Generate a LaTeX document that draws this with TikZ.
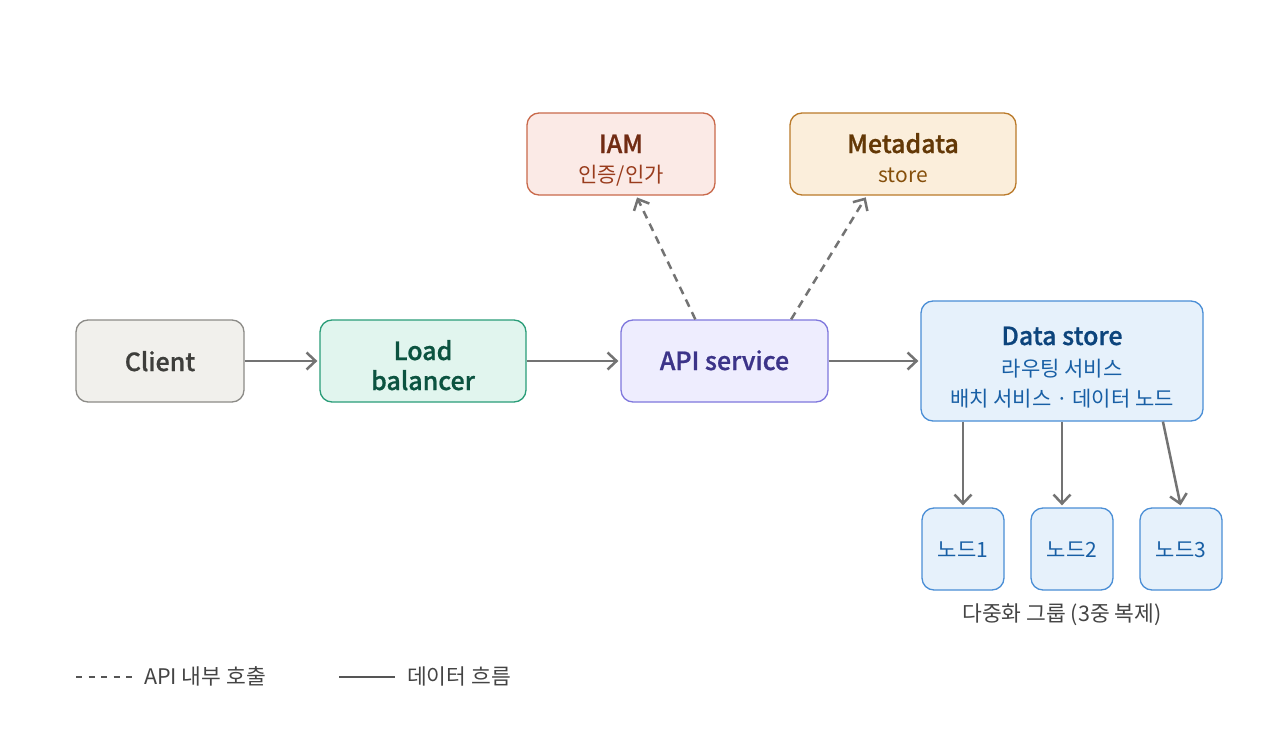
\documentclass[tikz,border=0pt]{standalone}
\usepackage{fontspec}
\setmainfont{Noto Sans CJK KR}[BoldFont={Noto Sans CJK KR Medium},BoldFeatures={FakeBold=0.8}]
\usetikzlibrary{arrows.meta}
\definecolor{clientFill}{HTML}{F1F0EC}
\definecolor{clientDraw}{HTML}{8C8B87}
\definecolor{clientText}{HTML}{3E3E3B}
\definecolor{lbFill}{HTML}{E1F5EE}
\definecolor{lbDraw}{HTML}{2A9D78}
\definecolor{lbText}{HTML}{0B5340}
\definecolor{apiFill}{HTML}{EEEDFE}
\definecolor{apiDraw}{HTML}{7F77DD}
\definecolor{apiText}{HTML}{3C3489}
\definecolor{iamFill}{HTML}{FBEAE6}
\definecolor{iamDraw}{HTML}{C9694B}
\definecolor{iamText}{HTML}{712B13}
\definecolor{iamSub}{HTML}{993C1D}
\definecolor{metaFill}{HTML}{FBEEDB}
\definecolor{metaDraw}{HTML}{BA7A2A}
\definecolor{metaText}{HTML}{633806}
\definecolor{metaSub}{HTML}{854F0B}
\definecolor{dsFill}{HTML}{E6F1FB}
\definecolor{dsDraw}{HTML}{4A8ED6}
\definecolor{dsText}{HTML}{0C447C}
\definecolor{dsSub}{HTML}{185FA5}
\definecolor{arrowGray}{HTML}{737373}
\definecolor{noteText}{HTML}{444444}
\definecolor{legendLine}{HTML}{555555}
\begin{document}
\begin{tikzpicture}[x=1pt,y=-1pt,
  box/.style={draw, rounded corners=12pt, line width=1.3pt, inner sep=0pt},
  ttl/.style={font=\fontsize{25}{30}\selectfont\bfseries, anchor=base, inner sep=0pt},
  sub/.style={font=\fontsize{21}{26}\selectfont, anchor=base, inner sep=0pt},
  note/.style={font=\fontsize{21.5}{26}\selectfont, anchor=base, inner sep=0pt, text=noteText},
  flow/.style={draw=arrowGray, line width=2.5pt, -{Straight Barb[length=9pt,width=17pt]}, shorten >=2pt},
  call/.style={flow, dash pattern=on 8pt off 6pt}]
\useasboundingbox (0,0) rectangle (1280,752);
\fill[white] (0,0) rectangle (1280,752);

% boxes
\node[box, fill=iamFill, draw=iamDraw, minimum width=188pt, minimum height=82pt] (iam) at (621,154) {};
\node[box, fill=metaFill, draw=metaDraw, minimum width=226pt, minimum height=82pt] (meta) at (903,154) {};
\node[box, fill=clientFill, draw=clientDraw, minimum width=168pt, minimum height=82pt] (client) at (160,361) {};
\node[box, fill=lbFill, draw=lbDraw, minimum width=206pt, minimum height=82pt] (lb) at (423,361) {};
\node[box, fill=apiFill, draw=apiDraw, minimum width=207pt, minimum height=82pt] (api) at (724.5,361) {};
\node[box, fill=dsFill, draw=dsDraw, minimum width=282pt, minimum height=120pt] (ds) at (1062,361) {};
\node[box, fill=dsFill, draw=dsDraw, minimum width=82pt, minimum height=82pt] (n1) at (963,549) {};
\node[box, fill=dsFill, draw=dsDraw, minimum width=82pt, minimum height=82pt] (n2) at (1072,549) {};
\node[box, fill=dsFill, draw=dsDraw, minimum width=82pt, minimum height=82pt] (n3) at (1181,549) {};

% labels
\node[ttl, text=iamText] (iamT) at (621,153) {IAM};
\node[sub, text=iamSub] (iamS) at (621,182) {인증/인가};
\node[ttl, text=metaText] (metaT) at (903,153) {Metadata};
\node[sub, text=metaSub] (metaS) at (903,182) {store};
\node[ttl, text=clientText] (clientT) at (160,371) {Client};
\node[ttl, text=lbText] (lbT1) at (423,360) {Load};
\node[ttl, text=lbText] (lbT2) at (423,390) {balancer};
\node[ttl, text=apiText] (apiT) at (724.5,370) {API service};
\node[ttl, text=dsText] (dsT) at (1062,345) {Data store};
\node[sub, text=dsSub] (dsS1) at (1062,376) {라우팅 서비스};
\node[sub, text=dsSub] (dsS2) at (1062,406) {배치 서비스 · 데이터 노드};
\node[sub, text=dsSub] (n1T) at (963,557) {노드1};
\node[sub, text=dsSub] (n2T) at (1072,557) {노드2};
\node[sub, text=dsSub] (n3T) at (1181,557) {노드3};
\node[note] (grp) at (1062,621) {다중화 그룹 (3중 복제)};

% connectors
\draw[flow] (client) -- (lb);
\draw[flow] (lb) -- (api);
\draw[flow] (api) -- (ds);
\draw[call] (api.125.7) -- (iam.290.4);
\draw[call] (api.32) -- (meta.229.3);
\draw[flow] (ds.south -| n1.north) -- (n1.north);
\draw[flow] (ds.south) -- (ds.south |- n2.north);
\draw[flow] (ds.329) -- (n3.north);

% legend
\coordinate (l1a) at (76,677);
\coordinate (l1b) at (132,677);
\coordinate (l2a) at (339,677);
\coordinate (l2b) at (395,677);
\draw[legendLine, line width=2pt, dash pattern=on 6pt off 6.5pt] (l1a) -- (l1b);
\draw[legendLine, line width=2pt] (l2a) -- (l2b);
\node[note, anchor=base west] (lg1) at (144,684) {API 내부 호출};
\node[note, anchor=base west] (lg2) at (407,684) {데이터 흐름};
\end{tikzpicture}
\end{document}
